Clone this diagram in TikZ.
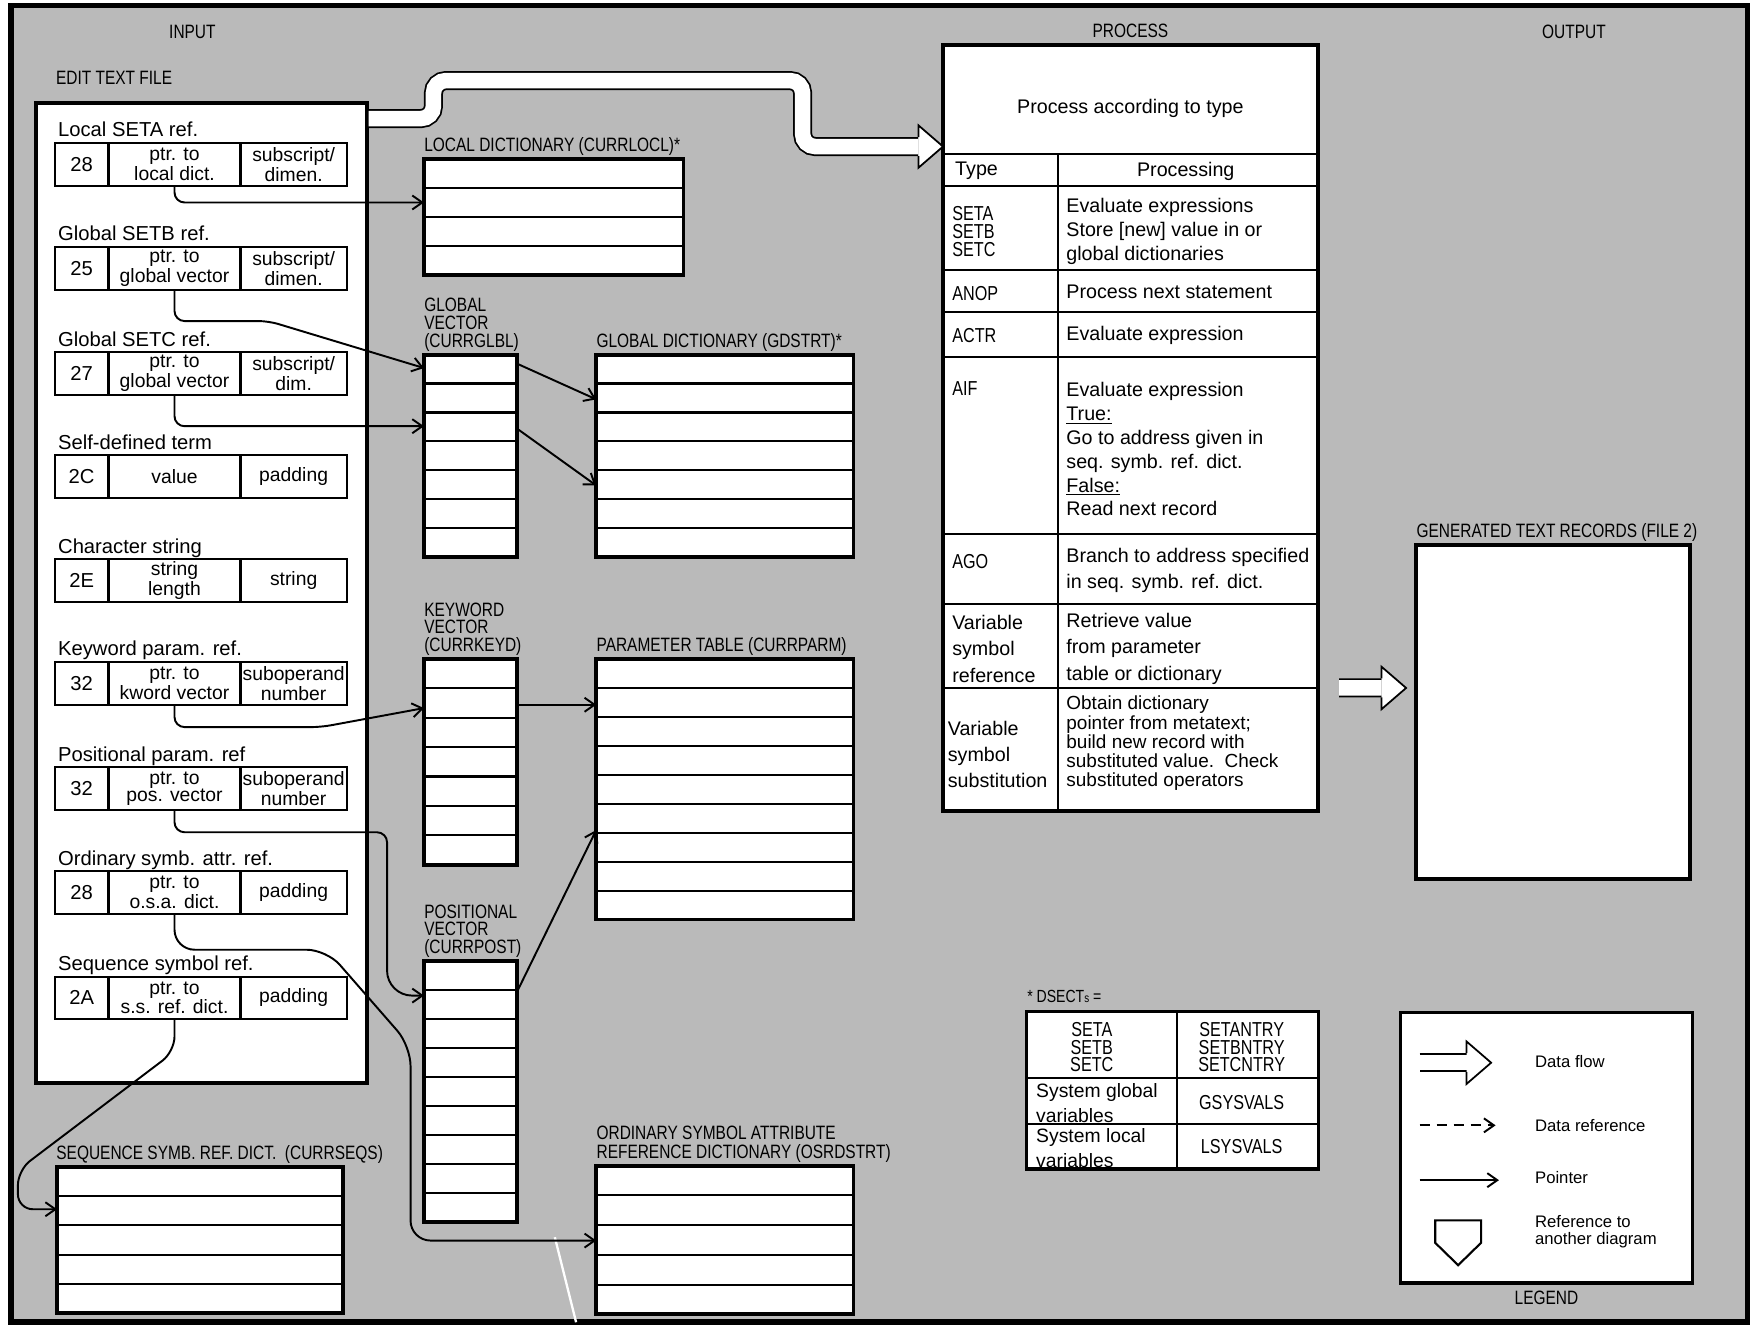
\documentclass[tikz,border=0pt]{standalone}
\usepackage{fontspec}
\setmainfont{Liberation Sans}
\newfontfamily\headfont[FakeStretch=0.8]{Liberation Sans}
\usetikzlibrary{arrows.meta, positioning, calc}

\begin{document}
\begin{tikzpicture}[
    x=0.22372mm, y=-0.22372mm,
    frame/.style={draw, fill=black!27, line width=3.2pt},
    box/.style={draw, fill=white, line width=2.2pt, inner sep=0pt, outer sep=0pt, anchor=north west},
    rowline/.style={line width=1.2pt},
    cell/.style={draw, fill=white, line width=1.2pt, inner sep=0.3pt, outer sep=0pt, minimum height=8.5mm, align=center, font=\fontsize{11}{9.8}\selectfont},
    idcell/.style={cell, minimum width=10.74mm, anchor=north west, font=\fontsize{11.5}{12}\selectfont},
    ptrcell/.style={cell, minimum width=26.4mm},
    subcell/.style={cell, minimum width=21.25mm},
    lbl/.style={font=\fontsize{11.5}{12}\selectfont, inner sep=0pt, text depth=2.5pt},
    head/.style={font=\headfont\fontsize{11}{10.1}\selectfont, inner sep=0pt, align=left, text depth=2.5pt},
    txt/.style={font=\fontsize{11.2}{13.6}\selectfont, inner sep=0pt, align=left, anchor=west},
    typetxt/.style={font=\headfont\fontsize{11.5}{10.1}\selectfont, inner sep=0pt, align=left, anchor=west},
    legtxt/.style={font=\fontsize{9.5}{9.3}\selectfont, inner sep=0pt, align=left, anchor=west},
    ptr/.style={draw, line width=1.1pt, -{Straight Barb[length=2mm, width=2.8mm]}, rounded corners=2mm},
    flowpipe/.style={draw, line width=1pt, double=white, double distance=3.1mm, rounded corners=2.5mm},
    flowhead/.pic={
        \fill[white] (0,-19) -- (22,0) -- (0,19) -- cycle;
        \draw[line width=1pt] (0,-8.5) -- (0,-19) -- (22,0) -- (0,19) -- (0,8.5);
    }
]

% Frame
\fill[white] (0,0) rectangle (1568,1185.4);
\useasboundingbox (0,0) rectangle (1568,1185.4);
\draw[frame] (10,5) rectangle (1562,1182);

% Headings
\node[head] (input) at (172,30) {INPUT};
\node[head] (output) at (1407,30) {OUTPUT};

% Edit text file
\node[box, line width=2.5pt, minimum width=66.22mm, minimum height=195.98mm] (efile) at (32,92) {};
\node[head, above right=2.7mm and 4mm of efile.north west] (efilelbl) {EDIT TEXT FILE};

\node[idcell] (lseta-id) at (49,128) {28};
\node[ptrcell, right=0pt of lseta-id] (lseta-ptr) {ptr. to\\local dict.};
\node[subcell, right=0pt of lseta-ptr] (lseta-sub) {subscript/\\dimen.};
\node[lbl, above right=0.3mm and 0.6mm of lseta-id.north west] (lseta-lbl) {Local SETA ref.};

\node[idcell] (gsetb-id) at (49,221) {25};
\node[ptrcell, right=0pt of gsetb-id] (gsetb-ptr) {ptr. to\\global vector};
\node[subcell, right=0pt of gsetb-ptr] (gsetb-sub) {subscript/\\dimen.};
\node[lbl, above right=0.3mm and 0.6mm of gsetb-id.north west] (gsetb-lbl) {Global SETB ref.};

\node[idcell] (gsetc-id) at (49,315) {27};
\node[ptrcell, right=0pt of gsetc-id] (gsetc-ptr) {ptr. to\\global vector};
\node[subcell, right=0pt of gsetc-ptr] (gsetc-sub) {subscript/\\dim.};
\node[lbl, above right=0.3mm and 0.6mm of gsetc-id.north west] (gsetc-lbl) {Global SETC ref.};

\node[idcell] (selfdef-id) at (49,407) {2C};
\node[ptrcell, right=0pt of selfdef-id] (selfdef-ptr) {value};
\node[subcell, right=0pt of selfdef-ptr] (selfdef-sub) {padding};
\node[lbl, above right=0.3mm and 0.6mm of selfdef-id.north west] (selfdef-lbl) {Self-defined term};

\node[idcell] (chstr-id) at (49,500) {2E};
\node[ptrcell, right=0pt of chstr-id] (chstr-ptr) {string\\length};
\node[subcell, right=0pt of chstr-ptr] (chstr-sub) {string};
\node[lbl, above right=0.3mm and 0.6mm of chstr-id.north west] (chstr-lbl) {Character string};

\node[idcell] (kwparm-id) at (49,592) {32};
\node[ptrcell, right=0pt of kwparm-id] (kwparm-ptr) {ptr. to\\kword vector};
\node[subcell, right=0pt of kwparm-ptr] (kwparm-sub) {suboperand\\number};
\node[lbl, above right=0.3mm and 0.6mm of kwparm-id.north west] (kwparm-lbl) {Keyword param. ref.};

\node[idcell] (posparm-id) at (49,686) {32};
\node[ptrcell, right=0pt of posparm-id] (posparm-ptr) {ptr. to\\pos. vector};
\node[subcell, right=0pt of posparm-ptr] (posparm-sub) {suboperand\\number};
\node[lbl, above right=0.3mm and 0.6mm of posparm-id.north west] (posparm-lbl) {Positional param. ref};

\node[idcell] (osaref-id) at (49,779) {28};
\node[ptrcell, right=0pt of osaref-id] (osaref-ptr) {ptr. to\\o.s.a. dict.};
\node[subcell, right=0pt of osaref-ptr] (osaref-sub) {padding};
\node[lbl, above right=0.3mm and 0.6mm of osaref-id.north west] (osaref-lbl) {Ordinary symb. attr. ref.};

\node[idcell] (seqref-id) at (49,873) {2A};
\node[ptrcell, right=0pt of seqref-id] (seqref-ptr) {ptr. to\\s.s. ref. dict.};
\node[subcell, right=0pt of seqref-ptr] (seqref-sub) {padding};
\node[lbl, above right=0.3mm and 0.6mm of seqref-id.north west] (seqref-lbl) {Sequence symbol ref.};

% Dictionaries and vectors
\node[box, minimum width=51.9mm, minimum height=23.27mm] (locdict) at (379,142) {};
\node[box, minimum width=18.57mm, minimum height=40.49mm] (glbvec) at (379,317) {};
\node[box, minimum width=51.46mm, minimum height=40.49mm] (glbdict) at (533,317) {};
\node[box, minimum width=18.57mm, minimum height=41.16mm] (kwvec) at (379,589) {};
\node[box, minimum width=51.46mm, minimum height=52.13mm] (parmtab) at (533,589) {};
\node[box, minimum width=18.57mm, minimum height=52.13mm] (posvec) at (379,859) {};
\node[box, minimum width=51.46mm, minimum height=29.75mm] (osadict) at (533,1042) {};
\node[box, minimum width=57.27mm, minimum height=29.31mm] (seqdict) at (51,1043) {};

\foreach \n/\k in {locdict/4, glbvec/7, glbdict/7, kwvec/7, parmtab/9, posvec/9, osadict/5, seqdict/5} {
    \pgfmathtruncatemacro\m{\k-1}
    \foreach \i in {1,...,\m}
        \draw[rowline] ($(\n.north west)!\i/\k!(\n.south west)$) -- ($(\n.north east)!\i/\k!(\n.south east)$);
}

\node[head, above right=0.5mm and 0mm of locdict.north west] (locdictlbl) {LOCAL DICTIONARY (CURRLOCL)*};
\node[head, above right=0.5mm and 0mm of glbvec.north west] (glbveclbl) {GLOBAL\\VECTOR\\(CURRGLBL)};
\node[head, above right=0.5mm and 0mm of glbdict.north west] (glbdictlbl) {GLOBAL DICTIONARY (GDSTRT)*};
\node[head, above right=0.5mm and 0mm of kwvec.north west] (kwveclbl) {KEYWORD\\VECTOR\\(CURRKEYD)};
\node[head, above right=0.5mm and 0mm of parmtab.north west] (parmtablbl) {PARAMETER TABLE (CURRPARM)};
\node[head, above right=0.5mm and 0mm of posvec.north west] (posveclbl) {POSITIONAL\\VECTOR\\(CURRPOST)};
\node[head, font=\headfont\fontsize{11}{10.8}\selectfont, above right=0.5mm and 0mm of osadict.north west] (osadictlbl) {ORDINARY SYMBOL ATTRIBUTE\\REFERENCE DICTIONARY (OSRDSTRT)};
\node[head, above right=0.5mm and -0.2mm of seqdict.north west] (seqdictlbl) {SEQUENCE SYMB. REF. DICT.\ \ (CURRSEQS)};

% Process table
\node[box, minimum width=74.95mm, minimum height=153.25mm] (proc) at (843,40) {};
\node[head, above=0.5mm of proc] (process) {PROCESS};
\foreach \y in {98,126,201,239,279,437,500,575}
    \draw[rowline] ($(proc.north west)+(0,\y)$) -- ($(proc.north east)+(0,\y)$);
\draw[rowline] ($(proc.north west)+(103,98)$) -- ($(proc.south west)+(103,0)$);

\node[txt, anchor=center] (p-title) at ($(proc.north)+(0,57)$) {Process according to type};
\node[txt, anchor=center] (p-type) at ($(proc.north west)+(30,113)$) {Type};
\node[txt, anchor=center] (p-proc) at ($(proc.north west)+(217,113)$) {Processing};
\node[typetxt] (t-set) at ($(proc.north west)+(8,167)$) {SETA\\SETB\\SETC};
\node[txt] (p-set) at ($(proc.north west)+(110,167)$) {Evaluate expressions\\Store [new] value in or\\global dictionaries};
\node[typetxt] (t-anop) at ($(proc.north west)+(8,222)$) {ANOP};
\node[txt] (p-anop) at ($(proc.north west)+(110,221)$) {Process next statement};
\node[typetxt] (t-actr) at ($(proc.north west)+(8,260)$) {ACTR};
\node[txt] (p-actr) at ($(proc.north west)+(110,260)$) {Evaluate expression};
\node[typetxt] (t-aif) at ($(proc.north west)+(8,307)$) {AIF};
\node[txt] (p-aif) at ($(proc.north west)+(110,361.5)$) {Evaluate expression\\\underline{True:}\\Go to address given in\\seq. symb. ref. dict.\\\underline{False:}\\Read next record};
\node[typetxt] (t-ago) at ($(proc.north west)+(8,462)$) {AGO};
\node[txt, font=\fontsize{11.2}{15.2}\selectfont] (p-ago) at ($(proc.north west)+(110,470)$) {Branch to address specified\\in seq. symb. ref. dict.};
\node[txt, font=\fontsize{11.2}{15.2}\selectfont] (t-vref) at ($(proc.north west)+(8,540)$) {Variable\\symbol\\reference};
\node[txt, font=\fontsize{11.2}{15.2}\selectfont] (p-vref) at ($(proc.north west)+(110,540)$) {Retrieve value\\from parameter\\table or dictionary};
\node[txt, font=\fontsize{11.2}{14.9}\selectfont] (t-vsub) at ($(proc.north west)+(4,634.5)$) {Variable\\symbol\\substitution};
\node[txt, font=\fontsize{10.8}{10.9}\selectfont] (p-vsub) at ($(proc.north west)+(110,624.5)$) {Obtain dictionary\\pointer from metatext;\\build new record with\\substituted value.\ \ Check\\substituted operators};

% Output
\node[box, minimum width=54.81mm, minimum height=66.89mm] (gentext) at (1266,487) {};
\node[head, above right=0.5mm and 0mm of gentext.north west] (gentextlbl) {GENERATED TEXT RECORDS (FILE 2)};

% DSECT table
\node[box, line width=1.8pt, minimum width=58.39mm, minimum height=31.55mm] (dsect) at (918,904) {};
\node[head, font=\headfont\fontsize{10}{10}\selectfont, above right=0.8mm and 0mm of dsect.north west] (dsectlbl) {* DSECT{\fontsize{7}{7}\selectfont s} =};
\draw[rowline] ($(dsect.north west)+(134,0)$) -- ($(dsect.south west)+(134,0)$);
\foreach \y in {60,101}
    \draw[rowline] ($(dsect.north west)+(0,\y)$) -- ($(dsect.north east)+(0,\y)$);
\node[typetxt, anchor=center, align=center] (ds-set) at ($(dsect.north west)+(58,32)$) {SETA\\SETB\\SETC};
\node[typetxt, anchor=center, align=center] (ds-ntry) at ($(dsect.north west)+(192,32)$) {SETANTRY\\SETBNTRY\\SETCNTRY};
\node[txt, font=\fontsize{11}{14}\selectfont] (ds-glob) at ($(dsect.north west)+(8,82)$) {System global\\variables};
\node[typetxt, anchor=center] (ds-gsys) at ($(dsect.north west)+(192,82)$) {GSYSVALS};
\node[txt, font=\fontsize{11}{14}\selectfont] (ds-loc) at ($(dsect.north west)+(8,122.5)$) {System local\\variables};
\node[typetxt, anchor=center] (ds-lsys) at ($(dsect.north west)+(192,121)$) {LSYSVALS};

% Scratch
\draw[white, line width=1.3pt] (496,1106) -- (515,1182);

% Data flow
\draw[flowpipe] ($(efile.north east)+(1.5,14)$) -| ++(58,-34) -| ++(330,59) -- ($(proc.north west)+(-22,91)$);
\pic at ($(proc.north west)+(-22,91)$) {flowhead};
\draw[flowpipe] ($(proc.south east)+(19,-110)$) -- ($(gentext.north west)+(-31,128)$);
\pic at ($(gentext.north west)+(-31,128)$) {flowhead};

% Pointers
\draw[ptr] (lseta-ptr.south) |- ($(locdict.north west)+(0,39)$);
\draw[ptr] (gsetb-ptr.south) |- ++(84,28) -- ($(glbvec.north west)+(0,12)$);
\draw[ptr] (gsetc-ptr.south) |- ($(glbvec.north west)+(0,64)$);
\draw[ptr] ($(glbvec.north east)+(0,8)$) -- ($(glbdict.north west)+(0,40)$);
\draw[ptr] ($(glbvec.north east)+(0,66)$) -- ($(glbdict.north west)+(0,117)$);
\draw[ptr] (kwparm-ptr.south) |- ++(131,20) -- ($(kwvec.north west)+(0,44)$);
\draw[ptr] ($(kwvec.north east)+(0,41)$) -- ($(parmtab.north west)+(0,41)$);
\draw[ptr] (posparm-ptr.south) |- ++(190,20) [rounded corners=5mm] |- ($(posvec.north west)+(0,31)$);
\draw[ptr] ($(posvec.north east)+(0,28)$) -- ($(parmtab.north west)+(0,153)$);
\draw[ptr, rounded corners=4mm] (osaref-ptr.south) |- ++(136,32) -- ++(75,86) |- ($(osadict.north west)+(0,67)$);
\draw[ptr, rounded corners=3mm] (seqref-ptr.south) -- ++(0,29) -- ++(-140,106) |- ($(seqdict.north west)+(0,38)$);

% Legend
\node[box, line width=1.8pt, minimum width=58.39mm, minimum height=54.14mm] (legend) at (1252,905) {};
\node[head, below=1.5mm of legend] (legendlbl) {LEGEND};
\draw[flowpipe] ($(legend.north west)+(17,45)$) -- ($(legend.north west)+(59,45)$);
\pic at ($(legend.north west)+(59,45)$) {flowhead};
\draw[ptr, dash pattern=on 2mm off 1.4mm] ($(legend.north west)+(17,101)$) -- ($(legend.north west)+(85,101)$);
\draw[ptr] ($(legend.north west)+(17,150)$) -- ($(legend.north west)+(88,150)$);
\draw[line width=1.2pt, fill=white] ($(legend.north west)+(31,186)$) -- ++(41,0) -- ++(0,20) -- ++(-20.5,20) -- ++(-20.5,-20) -- cycle;
\node[legtxt] (lg-flow) at ($(legend.north west)+(120,44)$) {Data flow};
\node[legtxt] (lg-ref) at ($(legend.north west)+(120,101)$) {Data reference};
\node[legtxt] (lg-ptr) at ($(legend.north west)+(120,148)$) {Pointer};
\node[legtxt] (lg-other) at ($(legend.north west)+(120,196)$) {Reference to\\another diagram};

\end{tikzpicture}
\end{document}
